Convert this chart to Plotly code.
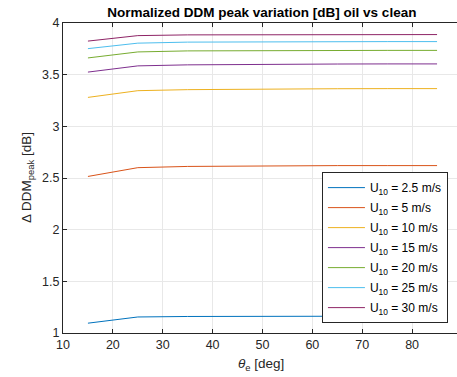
import plotly.graph_objects as go

theta = [15, 25, 35, 45, 55, 65, 75, 85]
u10_labels = ["2.5", "5", "10", "15", "20", "25", "30"]
ddm_2p5 = [1.095, 1.155, 1.16, 1.162, 1.163, 1.163, 1.163, 1.162]
ddm_5 = [2.515, 2.60, 2.612, 2.616, 2.618, 2.62, 2.62, 2.62]
ddm_10 = [3.28, 3.345, 3.355, 3.36, 3.362, 3.364, 3.365, 3.365]
ddm_15 = [3.525, 3.585, 3.595, 3.60, 3.602, 3.603, 3.604, 3.604]
ddm_20 = [3.662, 3.72, 3.73, 3.733, 3.735, 3.735, 3.735, 3.735]
ddm_25 = [3.752, 3.805, 3.815, 3.818, 3.82, 3.82, 3.82, 3.82]
ddm_30 = [3.825, 3.878, 3.885, 3.887, 3.888, 3.888, 3.888, 3.888]
series = [ddm_2p5, ddm_5, ddm_10, ddm_15, ddm_20, ddm_25, ddm_30]
colors = ["#0072BD", "#D95319", "#EDB120", "#7E2F8E", "#77AC30", "#4DBEEE", "#8E2466"]

x_ticks = [10, 20, 30, 40, 50, 60, 70, 80]
y_ticks = [1, 1.5, 2, 2.5, 3, 3.5, 4]

fig = go.Figure()
for i, (lab, ys, c) in enumerate(zip(u10_labels, series, colors)):
    fig.add_trace(go.Scatter(x=theta, y=ys, mode="lines",
                             line=dict(color=c, width=1),
                             legendgroup=f"g{i}",
                             name=f"U<sub>10</sub> = {lab} m/s"))

font = "Liberation Sans, Arial, sans-serif"
axis_common = dict(showline=True, linecolor="#262626", linewidth=1,
                   ticks="inside", ticklen=4, tickcolor="#262626",
                   showgrid=True, gridcolor="#e8e8e8", gridwidth=1,
                   zeroline=False, tickfont=dict(family=font, size=12.5, color="#262626"))

fig.update_layout(
    width=457, height=377,
    margin=dict(l=63, r=0, t=23, b=44),
    paper_bgcolor="white", plot_bgcolor="white",
    title=dict(text="<b>Normalized DDM peak variation [dB] oil vs clean</b>",
               x=0.573, xanchor="center", y=0.968, yanchor="middle",
               font=dict(family=font, size=13.5, color="black")),
    xaxis=dict(range=[10, 89], tickvals=x_ticks, mirror="ticks", **axis_common),
    yaxis=dict(range=[1, 4], tickvals=y_ticks, ticktext=[str(v) for v in y_ticks],
               mirror=False, **axis_common),
    legend=dict(x=0.977, y=0.519, xanchor="right", yanchor="top",
                bgcolor="white", bordercolor="#262626", borderwidth=1,
                font=dict(family=font, size=12, color="black"),
                tracegroupgap=1, itemwidth=37),
    showlegend=True,
    annotations=[
        dict(text="<i>θ</i><sub>e</sub> [deg]", xref="paper", yref="paper",
             x=(261 - 63) / 394, y=(333 - 364) / 310, xanchor="center", yanchor="middle",
             showarrow=False, font=dict(family=font, size=13.5, color="#262626")),
        dict(text="Δ DDM<sub>peak</sub> [dB]", xref="paper", yref="paper",
             x=(27 - 63) / 394, y=0.5, xanchor="center", yanchor="middle", textangle=-90,
             showarrow=False, font=dict(family=font, size=13.5, color="#262626")),
    ],
)

fig.write_html("out.html", config={"displayModeBar": False},
               post_script="document.body.style.margin='0';")
